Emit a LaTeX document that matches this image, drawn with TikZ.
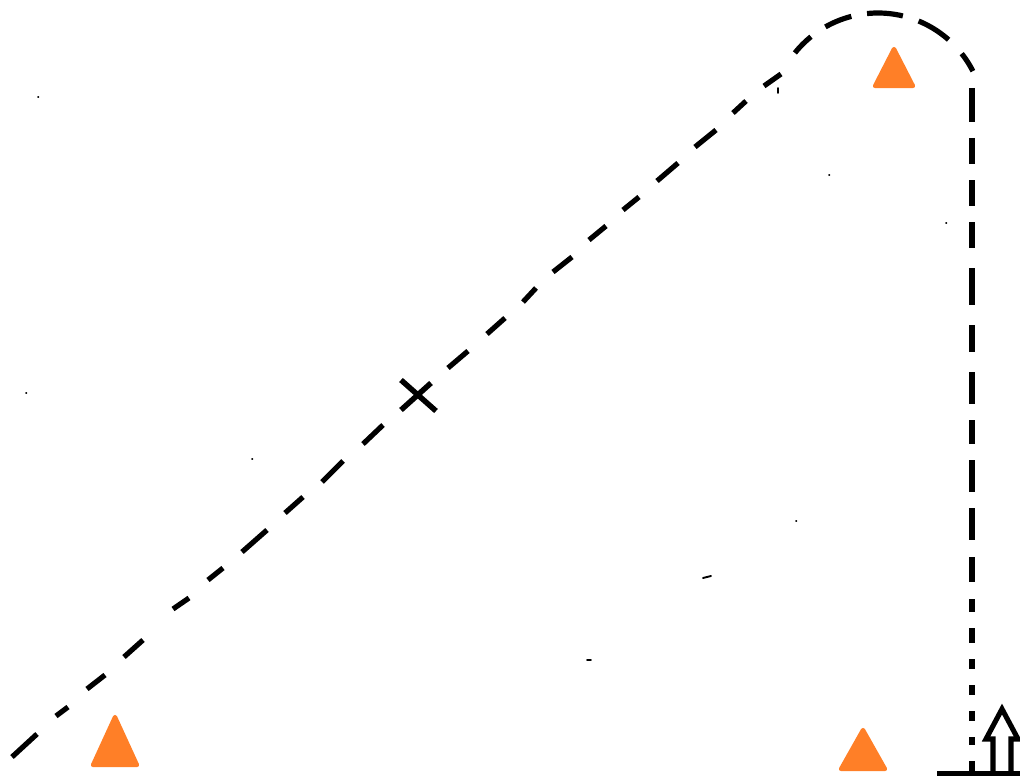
\documentclass[tikz,border=0pt]{standalone}
\definecolor{conefill}{HTML}{FF7F27}
\tikzset{
  route/.style={line width=3.9pt,line cap=butt},
  vroute/.style={line width=4.4pt,line cap=butt},
  cone/.style={fill=conefill,draw=conefill,line width=3.2pt,line join=round},
  speck/.style={line width=1.4pt,line cap=round},
  outline/.style={line width=3.8pt,line join=miter}
}
\begin{document}
\begin{tikzpicture}[x=0.75pt,y=-0.75pt]
\useasboundingbox (0,0) rectangle (1020,781);
\clip (0,0) rectangle (1020,781);
% diagonal dashes
\foreach \xa/\ya/\xb/\yb in {
 12/757/37/734, 56/716/68/707, 87/689/105/675, 124/657/143/640, 173/609/189/598,
 208/580/223/568, 242/552/267/530, 285/513/303/497, 322/482/343/461, 363/444/383/425,
 448/368/468/351, 487/334/505/318, 523/302/536/288, 553/272/572/257, 589/240/606/226,
 623/210/639/197, 657/181/678/163, 695/147/716/130, 733/113/746/101, 764/86/781/74}
  \draw[route] (\xa,\ya) -- (\xb,\yb);
% curve over the top: dashes on one circle
\foreach \aa/\ab in {141.3/129, 119.6/104.5, 95.9/76.5, 67.6/48.5, 38.2/27}
  \draw[route,domain=\aa:\ab,samples=12] plot ({878+106.5*cos(\x)},{119.5-106.5*sin(\x)});
% vertical dashes
\foreach \ya/\yb in {
 88/122, 138/164, 180/206, 222/248, 268/305, 325/352, 372/404, 420/444, 460/492,
 508/540, 557/582, 599/612, 628/643, 659/669, 685/695, 711/721, 737/745, 761/773}
  \draw[vroute] (972,\ya) -- (972,\yb);
% cross
\draw[line width=4.1pt] (401,380) -- (436,411);
\draw[line width=4.1pt] (401,410) -- (431,383);
% cones
\draw[cone] (894,49) -- (875,86) -- (913,86) -- cycle;
\draw[cone] (863,730) -- (841,769) -- (885,769) -- cycle;
\draw[cone] (115,717) -- (93,765) -- (137,765) -- cycle;
% ground and hollow arrow
\draw[line width=4pt] (937,773.7) -- (1020,773.7);
\draw[outline] (993,773) -- (993,739) -- (986,739) -- (1002,709) -- (1018,739) -- (1011,739) -- (1011,773);
% specks
\foreach \xa/\ya/\xb/\yb in {
 38/97/38.4/97, 26/393/26.4/393, 252/459/252.4/459, 829/175/829.4/175, 946/223/946.4/223,
 796/521/796.4/521, 703/578/711/576, 587/660/591/660, 778/88/778/93}
  \draw[speck] (\xa,\ya) -- (\xb,\yb);
\end{tikzpicture}
\end{document}
